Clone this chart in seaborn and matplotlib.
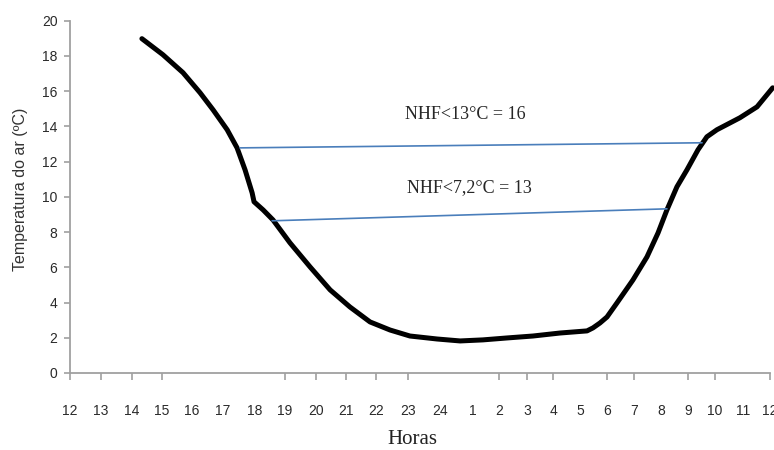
import numpy as np
import pandas as pd
import matplotlib
matplotlib.use("Agg")
import matplotlib.pyplot as plt
import seaborn as sns

# ---- data (x = hours elapsed since 12:00 of day 1) ----
hours = [2.33, 3.03, 3.70, 4.26, 4.68, 5.13, 5.44, 5.69, 5.91, 5.97, 6.27, 6.60,
         7.16, 7.81, 8.47, 9.13, 9.80, 10.44, 11.06, 11.91, 12.61, 13.38, 14.29,
         15.23, 16.26, 17.26, 17.48, 17.74, 18.00, 18.37, 18.96, 19.48, 19.89,
         20.22, 20.59, 20.96, 21.37, 21.70, 22.07, 22.89, 23.52, 24.10]
temp = [18.98, 18.07, 17.05, 15.91, 14.94, 13.81, 12.78, 11.53, 10.23, 9.72, 9.26, 8.69,
        7.39, 6.02, 4.72, 3.75, 2.90, 2.44, 2.10, 1.93, 1.82, 1.88, 1.99,
        2.10, 2.27, 2.39, 2.56, 2.84, 3.18, 3.98, 5.28, 6.59, 7.95,
        9.26, 10.57, 11.53, 12.67, 13.41, 13.81, 14.49, 15.11, 16.19]

line13_x = [5.53, 21.52]
line13_y = [12.78, 13.07]
line72_x = [6.57, 20.22]
line72_y = [8.64, 9.32]

tick_labels = ["12", "13", "14", "15", "16", "17", "18", "19", "20", "21", "22", "23", "24",
               "1", "2", "3", "4", "5", "6", "7", "8", "9", "10", "11", "12"]
y_ticks = [0, 2, 4, 6, 8, 10, 12, 14, 16, 18, 20]

label13 = "NHF<13°C = 16"
label72 = "NHF<7,2°C = 13"

# ---- layout: uneven spacing of the hour axis (pixel-like positions) ----
tick_hours = np.arange(-1, 26)
tick_px = np.array([39, 70, 101, 132, 162, 192, 223, 255, 285, 316, 346, 376, 408, 440,
                    473, 499, 527, 553, 580, 607, 634, 661, 688, 715, 743, 770, 797], float)

def fwd(h):
    return np.interp(h, tick_hours, tick_px)

def inv(p):
    return np.interp(p, tick_px, tick_hours)

sns.set_style("white")
plt.rcParams["font.family"] = ["Liberation Sans", "DejaVu Sans"]

fig = plt.figure(figsize=(7.74, 4.50), dpi=100)
ax = fig.add_axes([70 / 774, 1 - 373 / 450, 700 / 774, (373 - 20.7) / 450])
ax.set_xscale("function", functions=(fwd, inv))

df = pd.DataFrame({"h": hours, "t": temp})
sns.lineplot(data=df, x="h", y="t", ax=ax, color="black", linewidth=3.6,
             sort=False, solid_capstyle="round", solid_joinstyle="round")
for lx, ly in [(line13_x, line13_y), (line72_x, line72_y)]:
    sns.lineplot(x=lx, y=ly, ax=ax, color="#4a7ebb", linewidth=1.2)

for ln in ax.get_lines():
    ln.set_clip_on(False)

ax.set_xlim(0, 24)
ax.set_ylim(0, 20)
ax.set_xticks(range(25))
ax.set_xticklabels(tick_labels)
ax.set_yticks(y_ticks)
ax.set_yticklabels([str(v) for v in y_ticks])
ax.set_xlabel("")
ax.set_ylabel("")

for s in ["top", "right"]:
    ax.spines[s].set_visible(False)
for s in ["left", "bottom"]:
    ax.spines[s].set_color("#a0a0a0")
    ax.spines[s].set_linewidth(1.3)

tick_font = ["Liberation Sans Narrow", "Liberation Sans", "DejaVu Sans"]
ax.tick_params(axis="x", direction="out", length=5, width=1.2, color="#a0a0a0",
               pad=17, labelsize=10, labelcolor="#2a2a2a", bottom=True)
ax.tick_params(axis="y", direction="out", length=4, width=1.2, color="#a0a0a0",
               pad=5, labelsize=10, labelcolor="#2a2a2a", left=True)
for lab in ax.get_xticklabels() + ax.get_yticklabels():
    lab.set_family(tick_font)

visible = {0, 1, 2, 3, 7, 8, 9, 10, 11, 14, 15, 16, 18, 19, 21, 22, 24}
for i, t in enumerate(ax.xaxis.get_major_ticks()):
    t.tick1line.set_visible(i in visible)

serif = ["Liberation Serif", "DejaVu Serif"]
ax.text(12.76, 14.66, label13, ha="center", va="center", fontsize=13, family=serif)
ax.text(12.90, 10.51, label72, ha="center", va="center", fontsize=13, family=serif)

fig.text(412 / 774, 1 - 440 / 450, "Horas", ha="center", va="center",
         fontsize=15, family=serif, color="#222222")
fig.text(21 / 774, 1 - 189 / 450, "Temperatura do ar (ºC)", ha="center", va="center",
         rotation=90, fontsize=11.5, color="#333333")

fig.savefig("out.png", dpi=100)
